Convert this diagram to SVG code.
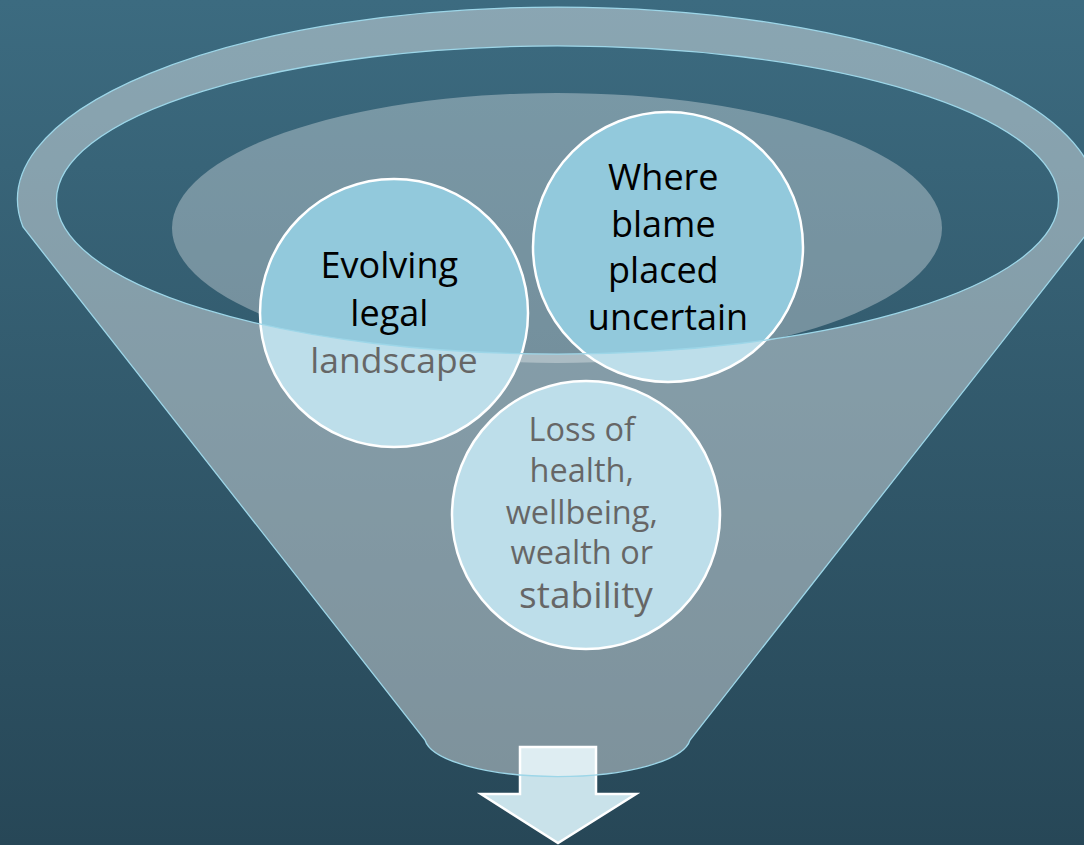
<svg xmlns="http://www.w3.org/2000/svg" width="1084" height="845" viewBox="0 0 1084 845">
  <defs>
    <linearGradient id="bg" x1="0" y1="0" x2="0" y2="1">
      <stop offset="0" stop-color="#3c6b80"/>
      <stop offset="1" stop-color="#274757"/>
    </linearGradient>
    <style>
      .bubble { fill: #92c9dc; stroke: #ffffff; stroke-width: 2.5; }
      .label { font-family: "Open Sans", "Liberation Sans", sans-serif; fill: #000000; text-anchor: middle; }
      .funnel { fill: #ffffff; fill-opacity: 0.4; fill-rule: evenodd; stroke: #9dd6e8; stroke-width: 1.3; }
    </style>
  </defs>

  <!-- backdrop -->
  <rect x="0" y="0" width="1084" height="845" fill="url(#bg)"/>

  <!-- soft glow inside the funnel mouth -->
  <ellipse cx="557" cy="228" rx="385" ry="135" fill="#ffffff" fill-opacity="0.32"/>

  <!-- items falling into the funnel -->
  <g id="node-evolving">
    <circle class="bubble" cx="394" cy="313" r="134"/>
    <text class="label" font-size="36">
      <tspan x="394" y="278">Evolving</tspan>
      <tspan x="394" y="326">legal</tspan>
      <tspan x="394" y="373" font-size="35.5">landscape</tspan>
    </text>
  </g>

  <g id="node-blame">
    <circle class="bubble" cx="668" cy="247" r="135"/>
    <text class="label" font-size="36">
      <tspan x="668" y="190">Where</tspan>
      <tspan x="668" y="237">blame</tspan>
      <tspan x="668" y="283">placed</tspan>
      <tspan x="668" y="330">uncertain</tspan>
    </text>
  </g>

  <g id="node-loss">
    <circle class="bubble" cx="586" cy="515" r="134"/>
    <text class="label" font-size="32.5">
      <tspan x="586" y="441">Loss of</tspan>
      <tspan x="586" y="482">health,</tspan>
      <tspan x="586" y="524">wellbeing,</tspan>
      <tspan x="586" y="564">wealth or</tspan>
      <tspan x="586" y="608" font-size="37">stability</tspan>
    </text>
  </g>

  <!-- outlet arrow -->
  <g id="node-outlet">
    <path d="M520,747 H596 V794 H636 L558,843 L481,794 H520 Z" fill="#c9e2ea" stroke="#ffffff" stroke-width="2.5" stroke-linejoin="miter"/>
  </g>

  <!-- translucent funnel body with open mouth -->
  <g id="funnel">
    <path class="funnel" d="M23,227 A540,192.5 0 1 1 1092,227 L690,740 A133,40 0 0 1 425,740 Z
             M56.5,200 A501,154 0 1 0 1058.5,200 A501,154 0 1 0 56.5,200 Z"/>
  </g>

  <g id="connectors"></g>
</svg>
